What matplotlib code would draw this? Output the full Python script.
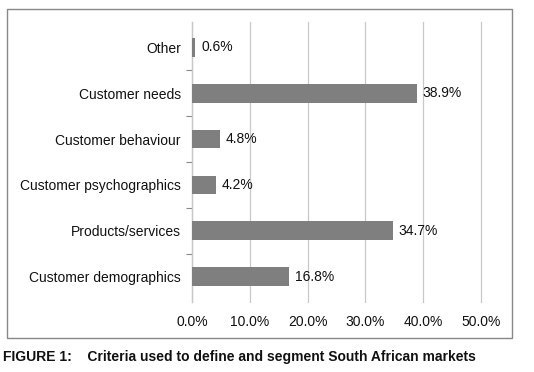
import matplotlib
matplotlib.use("Agg")
import matplotlib.pyplot as plt
from matplotlib.patches import Rectangle
import numpy as np

categories = ["Customer demographics", "Products/services", "Customer psychographics",
              "Customer behaviour", "Customer needs", "Other"]
values = [16.8, 34.7, 4.2, 4.8, 38.9, 0.6]
xticks = [0, 10, 20, 30, 40, 50]
xticklabels = ["0.0%", "10.0%", "20.0%", "30.0%", "40.0%", "50.0%"]
caption = "FIGURE 1:    Criteria used to define and segment South African markets"

plt.rcParams['font.family'] = ['Liberation Sans', 'DejaVu Sans']
W, H = 534, 372
fig = plt.figure(figsize=(W/100, H/100), dpi=100)
ax = fig.add_axes([192/W, 1-302/H, (481-192)/W, (302-22)/H])

y = np.arange(len(categories))
ax.barh(y, values, height=0.41, color="#7f7f7f", zorder=3)
for yi, v in zip(y, values):
    ax.annotate(f"{v:.1f}%", (v, yi), xytext=(4, 0), textcoords="offset points",
                va="center", ha="left", fontsize=10, color="#111111")

ax.set_xlim(0, 50)
ax.set_ylim(-0.55, 5.55)
ax.set_xticks(xticks)
ax.set_xticklabels(xticklabels, fontsize=10, color="#111111")
ax.set_yticks(y)
ax.set_yticklabels(categories, fontsize=10, color="#111111")
ax.set_yticks(np.arange(0.5, 5.5, 1), minor=True)
ax.tick_params(axis='y', which='major', length=0, pad=8)
ax.tick_params(axis='y', which='minor', length=4, color="#888888", width=0.8)
ax.tick_params(axis='x', length=0, pad=9)
ax.grid(axis='x', color="#c8c8c8", linewidth=0.9, zorder=0)
for gl in ax.get_xgridlines():
    gl.set_clip_on(False)
for s in ["top", "right", "bottom"]:
    ax.spines[s].set_visible(False)
ax.spines["left"].set_color("#c8c8c8")
ax.spines["left"].set_linewidth(0.9)

fig.patches.append(Rectangle((7/W, 1-338/H), (512-7)/W, (338-9)/H, transform=fig.transFigure,
                             fill=False, edgecolor="#888888", linewidth=1.0))
fig.text(3/W, 1-357/H, caption, fontsize=10, fontweight="bold", va="center", ha="left", color="#111111")

fig.savefig("out.png", dpi=100)
